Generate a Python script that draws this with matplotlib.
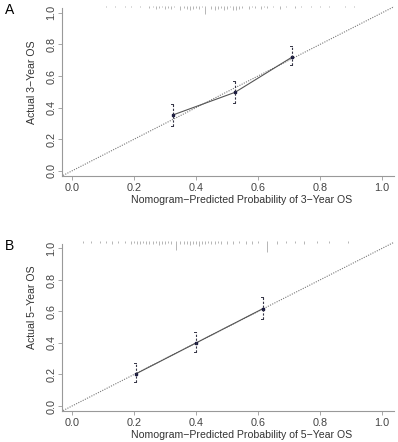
import matplotlib.pyplot as plt

plt.rcParams['font.family'] = ['Liberation Sans', 'DejaVu Sans']

# calibration points
pred_3y = [0.326, 0.526, 0.710]
obs_3y = [0.354, 0.497, 0.720]
lo_3y = [0.285, 0.430, 0.670]
hi_3y = [0.420, 0.570, 0.790]

pred_5y = [0.206, 0.400, 0.616]
obs_5y = [0.204, 0.400, 0.618]
lo_5y = [0.150, 0.340, 0.555]
hi_5y = [0.270, 0.470, 0.690]

# distribution of predictions (spike histogram at top)
rug_3y = [0.11, 0.14, 0.17, 0.19, 0.22, 0.25, 0.26, 0.27, 0.28, 0.29, 0.30, 0.31,
          0.32, 0.33, 0.35, 0.36, 0.37, 0.38, 0.39, 0.40, 0.41, 0.42, 0.43, 0.45,
          0.46, 0.47, 0.48, 0.49, 0.50, 0.51, 0.52, 0.53, 0.54, 0.55, 0.57, 0.58,
          0.59, 0.61, 0.62, 0.63, 0.65, 0.67, 0.69, 0.72, 0.74, 0.77, 0.80, 0.83,
          0.88, 0.91]
rug_h_3y = [0.01, 0.01, 0.01, 0.01, 0.01, 0.015, 0.01, 0.02, 0.015, 0.01, 0.02, 0.015,
            0.02, 0.01, 0.025, 0.015, 0.02, 0.03, 0.02, 0.015, 0.02, 0.01, 0.05, 0.02,
            0.03, 0.02, 0.015, 0.03, 0.02, 0.01, 0.03, 0.025, 0.02, 0.015, 0.02, 0.01,
            0.015, 0.02, 0.01, 0.015, 0.01, 0.02, 0.01, 0.015, 0.01, 0.01, 0.01, 0.01,
            0.01, 0.01]

rug_5y = [0.035, 0.06, 0.09, 0.11, 0.13, 0.15, 0.17, 0.19, 0.20, 0.21, 0.22, 0.23,
          0.24, 0.25, 0.26, 0.27, 0.28, 0.29, 0.30, 0.31, 0.32, 0.335, 0.35, 0.36,
          0.37, 0.38, 0.39, 0.40, 0.41, 0.42, 0.43, 0.44, 0.45, 0.46, 0.47, 0.48,
          0.50, 0.52, 0.54, 0.56, 0.58, 0.60, 0.63, 0.66, 0.69, 0.72, 0.75, 0.79,
          0.83, 0.89]
rug_h_5y = [0.01, 0.01, 0.01, 0.01, 0.015, 0.01, 0.01, 0.015, 0.01, 0.02, 0.015, 0.01,
            0.02, 0.015, 0.02, 0.01, 0.025, 0.015, 0.02, 0.01, 0.02, 0.055, 0.02, 0.015,
            0.02, 0.025, 0.015, 0.02, 0.03, 0.015, 0.02, 0.01, 0.02, 0.015, 0.01, 0.02,
            0.015, 0.02, 0.01, 0.015, 0.02, 0.01, 0.07, 0.015, 0.01, 0.01, 0.015, 0.01,
            0.01, 0.01]

panels = [
    ("A", "3", pred_3y, obs_3y, lo_3y, hi_3y, rug_3y, rug_h_3y,
     [0.156, 0.602, 0.834, 0.385], 0.55),
    ("B", "5", pred_5y, obs_5y, lo_5y, hi_5y, rug_5y, rug_h_5y,
     [0.156, 0.070, 0.834, 0.384], 0.61),
]

fig = plt.figure(figsize=(3.98, 4.42), dpi=100)

for letter, yr, px, py, lo, hi, rug, rh, pos, ylab_y in panels:
    ax = fig.add_axes(pos)
    ax.set_xlim(-0.032, 1.039)
    ax.set_ylim(-0.032, 1.045)

    # ideal line
    ax.plot([-0.05, 1.1], [-0.05, 1.1], linestyle=(0, (1, 1.2)), color="#777777", lw=0.8)
    # calibration line
    ax.plot(px, py, color="#555555", lw=0.8)
    ax.plot(px, py, "s", color="#1a1a40", ms=1.6)
    # error bars
    for x, l, h in zip(px, lo, hi):
        ax.plot([x, x], [l, h], linestyle=(0, (2, 1.5)), color="#333344", lw=0.8)
        ax.plot([x - 0.006, x], [h, h], color="#333344", lw=0.7)
        ax.plot([x - 0.006, x], [l, l], color="#333344", lw=0.7)

    # spike histogram at the top
    top = 1.045
    ax.vlines(rug, [top - h for h in rh], top, color="#aaaaaa", lw=0.6, clip_on=False)

    for s in ["top", "right"]:
        ax.spines[s].set_visible(False)
    for s in ["left", "bottom"]:
        ax.spines[s].set_color("#999999")
        ax.spines[s].set_linewidth(0.8)
    ax.spines["left"].set_bounds(-0.032, 1.03)

    ticks = [0.0, 0.2, 0.4, 0.6, 0.8, 1.0]
    ax.set_xticks(ticks)
    ax.set_yticks(ticks)
    ax.set_xticklabels([f"{t:.1f}" for t in ticks], fontsize=7.8, color="#444444")
    ax.set_yticklabels([f"{t:.1f}" for t in ticks], fontsize=7.8, color="#444444",
                       rotation=90, va="center")
    ax.tick_params(direction="out", length=3, width=0.6, color="#999999", pad=2)
    ax.tick_params(axis="y", pad=1)

    ax.set_xlabel(f"Nomogram\u2212Predicted Probability of {yr}\u2212Year OS",
                  fontsize=7.6, color="#333333")
    ax.xaxis.set_label_coords(0.542, -0.11)
    ax.set_ylabel(f"Actual {yr}\u2212Year OS", fontsize=7.6, color="#333333")
    ax.yaxis.set_label_coords(-0.075, ylab_y)

    fig.text(0.012, pos[1] + pos[3] + 0.006, letter, fontsize=10, va="top", ha="left")

fig.savefig("out.png", dpi=100)
